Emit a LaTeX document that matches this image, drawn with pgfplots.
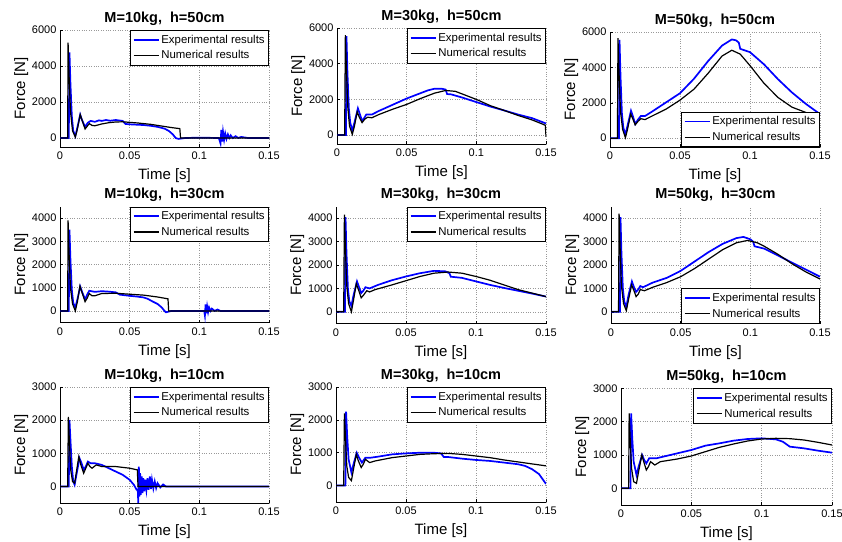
\documentclass[border=0pt]{standalone}
\usepackage{fontspec}
\setmainfont{Liberation Sans}
\usepackage{pgfplots}
\pgfplotsset{compat=1.18}
\definecolor{mblue}{RGB}{0,0,255}
\pgfplotsset{
  myax/.style={
    scale only axis, width=209pt, height=116pt,
    xmin=0, xmax=0.15, xtick={0,0.05,0.1,0.15}, xticklabels={0,0.05,0.1,0.15},
    axis x line*=bottom, axis y line*=left,
    grid=major, major grid style={dotted, gray!80, line width=0.6pt},
    axis line style={line width=0.6pt, black},
    tick style={black, line width=0.5pt}, major tick length=3pt,
    tick align=inside,
    scaled y ticks=false,
    /pgf/number format/1000 sep={}, /pgf/number format/assume math mode=true,
    tick label style={font=\fontsize{11}{13}\selectfont},
    xticklabel style={yshift=-1.5pt},
    label style={font=\fontsize{15}{17}\selectfont},
    xlabel style={yshift=-2pt},
    ylabel shift=-3pt,
    title style={font=\bfseries\fontsize{14.5}{16}\selectfont, yshift=-5pt},
    xlabel={Time [s]}, ylabel={Force [N]},
    legend style={font=\fontsize{11.4}{13}\selectfont, draw=black, line width=0.7pt, fill=white, inner xsep=2pt, inner ysep=2.5pt, row sep=2pt, cells={anchor=west}},
    legend image code/.code={\draw[#1] (0pt,0pt) -- (25pt,0pt);},
    legend cell align=left,
  },
  ne/.style={legend style={at={(1,1)}, anchor=north east}},
  se/.style={legend style={at={(1,0)}, anchor=south east}},
  r1/.style={ymin=-500, ymax=6000, ytick={0,2000,4000,6000}},
  r2/.style={ymin=-500, ymax=4500, ytick={0,1000,2000,3000,4000}},
  r3/.style={ymin=-500, ymax=3000, ytick={0,1000,2000,3000}},
  expc/.style={color=mblue, draw=mblue, line width=1.7pt},
  numc/.style={color=black, draw=black, line width=1.2pt},
}
\begin{document}
\begin{tikzpicture}
\path[use as bounding box] (0pt,0pt) rectangle (842pt,-541pt);

% P1
\begin{axis}[myax, r1, ne, at={(60pt,-147pt)}, anchor=south west, height=117pt, title={M=10kg,~~h=50cm}]
\addplot[expc] coordinates {(0,0)(0.0063,0)(0.0068,4750)(0.0075,3000)(0.0085,1200)(0.0095,400)(0.011,100)(0.0125,600)(0.0145,1300)(0.0158,1000)(0.018,620)(0.020,850)(0.022,950)(0.025,900)(0.028,980)(0.03,950)(0.033,1000)(0.036,960)(0.04,1000)(0.043,970)(0.045,950)(0.047,780)(0.05,760)(0.055,740)(0.06,720)(0.065,680)(0.07,620)(0.075,520)(0.078,400)(0.081,200)(0.083,0)(0.085,-50)(0.087,-30)(0.09,0)(0.1,20)(0.114,0)(0.1152,-300)(0.1158,450)(0.1164,-200)(0.117,350)(0.1178,-100)(0.1186,250)(0.1195,-50)(0.1205,200)(0.1215,0)(0.1225,150)(0.124,0)(0.126,100)(0.128,0)(0.13,60)(0.135,0)(0.15,0)};
\addlegendentry{Experimental results}
\addplot[numc] coordinates {(0,0)(0.0055,0)(0.0058,5300)(0.0065,3500)(0.0075,1500)(0.009,400)(0.011,50)(0.0125,500)(0.0145,1300)(0.016,950)(0.018,500)(0.0195,650)(0.021,800)(0.023,700)(0.025,680)(0.03,780)(0.035,850)(0.04,890)(0.045,900)(0.05,870)(0.055,840)(0.06,800)(0.065,760)(0.07,700)(0.075,640)(0.08,580)(0.086,520)(0.0865,0)(0.15,0)};
\addlegendentry{Numerical results}
\end{axis}

% P2
\begin{axis}[myax, r1, ne, at={(337pt,-144pt)}, anchor=south west, title={M=30kg,~~h=50cm}]
\addplot[expc] coordinates {(0,0)(0.0064,0)(0.0068,5550)(0.0075,3500)(0.0085,1500)(0.0095,700)(0.011,250)(0.0125,700)(0.015,1500)(0.0165,1150)(0.018,800)(0.0195,950)(0.021,1150)(0.025,1150)(0.03,1350)(0.04,1700)(0.05,2050)(0.06,2350)(0.065,2500)(0.07,2600)(0.075,2600)(0.078,2550)(0.079,2300)(0.082,2280)(0.09,2100)(0.1,1850)(0.11,1600)(0.12,1380)(0.13,1150)(0.14,950)(0.15,650)};
\addlegendentry{Experimental results}
\addplot[numc] coordinates {(0,0)(0.0055,0)(0.006,5600)(0.0067,3800)(0.0078,1500)(0.009,500)(0.011,40)(0.0125,500)(0.0145,1300)(0.016,1000)(0.018,700)(0.020,900)(0.022,1000)(0.025,970)(0.03,1150)(0.04,1450)(0.05,1720)(0.06,2050)(0.07,2350)(0.078,2500)(0.085,2450)(0.09,2300)(0.1,2000)(0.11,1650)(0.12,1380)(0.13,1100)(0.14,850)(0.148,600)(0.1495,550)(0.15,-100)};
\addlegendentry{Numerical results}
\end{axis}

% P3
\begin{axis}[myax, r1, se, at={(610pt,-147pt)}, anchor=south west, width=210pt, height=115pt, title={M=50kg,~~h=50cm}]
\addplot[expc] coordinates {(0,0)(0.0064,0)(0.0068,5550)(0.0075,3500)(0.0085,1400)(0.0095,600)(0.011,200)(0.0125,700)(0.015,1550)(0.0165,1200)(0.018,800)(0.020,1050)(0.022,1250)(0.025,1250)(0.03,1500)(0.04,2020)(0.05,2540)(0.06,3360)(0.07,4350)(0.08,5230)(0.087,5580)(0.09,5530)(0.092,5400)(0.093,5050)(0.1,4860)(0.11,4170)(0.12,3330)(0.13,2580)(0.14,1930)(0.15,1360)};
\addlegendentry{Experimental results}
\addplot[numc] coordinates {(0,0)(0.0053,0)(0.0057,5650)(0.0064,3800)(0.0075,1500)(0.009,500)(0.011,30)(0.0125,500)(0.0148,1360)(0.0165,1050)(0.018,750)(0.020,950)(0.022,1100)(0.025,1050)(0.03,1250)(0.04,1640)(0.05,2150)(0.06,2770)(0.07,3660)(0.08,4640)(0.087,4970)(0.093,4750)(0.1,4100)(0.11,3100)(0.12,2300)(0.13,1750)(0.14,1450)(0.15,1250)};
\addlegendentry{Numerical results}
\end{axis}

% P4
\begin{axis}[myax, r2, ne, at={(60pt,-322.5pt)}, anchor=south west, title={M=10kg,~~h=30cm}]
\addplot[expc] coordinates {(0,0)(0.0063,0)(0.0068,3500)(0.0075,2200)(0.0085,900)(0.0095,350)(0.011,150)(0.0125,500)(0.0145,1050)(0.016,800)(0.018,500)(0.0195,700)(0.021,870)(0.025,820)(0.03,850)(0.035,830)(0.04,800)(0.043,700)(0.05,650)(0.055,620)(0.06,580)(0.063,520)(0.066,420)(0.07,300)(0.073,150)(0.075,0)(0.076,-60)(0.078,-30)(0.08,0)(0.1035,0)(0.104,-200)(0.1045,280)(0.105,-100)(0.1056,200)(0.1063,-50)(0.107,150)(0.108,0)(0.109,100)(0.111,0)(0.113,60)(0.115,0)(0.15,0)};
\addlegendentry{Experimental results}
\addplot[numc] coordinates {(0,0)(0.0055,0)(0.0058,3900)(0.0065,2500)(0.0075,1000)(0.009,300)(0.011,0)(0.0125,400)(0.0143,1070)(0.016,750)(0.018,400)(0.0195,550)(0.021,750)(0.023,650)(0.025,650)(0.03,750)(0.04,760)(0.05,720)(0.06,680)(0.07,600)(0.0775,520)(0.078,0)(0.15,0)};
\addlegendentry{Numerical results}
\end{axis}

% P5
\begin{axis}[myax, r2, ne, at={(336pt,-323.5pt)}, anchor=south west, width=210pt, height=117pt, title={M=30kg,~~h=30cm}]
\addplot[expc] coordinates {(0,0)(0.0064,0)(0.0068,4050)(0.0075,2500)(0.0085,1000)(0.0095,450)(0.011,250)(0.0125,700)(0.015,1300)(0.0165,1050)(0.018,800)(0.0195,900)(0.021,1050)(0.024,1000)(0.03,1150)(0.04,1350)(0.05,1510)(0.06,1650)(0.07,1750)(0.078,1730)(0.081,1650)(0.082,1500)(0.09,1450)(0.1,1300)(0.11,1150)(0.12,1020)(0.13,900)(0.14,780)(0.15,650)};
\addlegendentry{Experimental results}
\addplot[numc] coordinates {(0,0)(0.0055,0)(0.006,4150)(0.0067,2700)(0.0077,1100)(0.009,350)(0.011,0)(0.0125,500)(0.0145,1200)(0.016,950)(0.018,600)(0.0195,700)(0.022,900)(0.024,850)(0.028,950)(0.04,1150)(0.05,1330)(0.06,1510)(0.07,1650)(0.08,1700)(0.09,1650)(0.1,1510)(0.11,1350)(0.12,1150)(0.13,950)(0.14,800)(0.15,650)};
\addlegendentry{Numerical results}
\end{axis}

% P6
\begin{axis}[myax, r2, se, at={(611pt,-323.5pt)}, anchor=south west, height=117pt, title={M=50kg,~~h=30cm}]
\addplot[expc] coordinates {(0,0)(0.0064,0)(0.0068,4050)(0.0075,2500)(0.0085,1000)(0.0095,450)(0.011,200)(0.0125,700)(0.015,1300)(0.0165,1050)(0.018,850)(0.0195,950)(0.021,1100)(0.023,1050)(0.03,1250)(0.035,1350)(0.04,1450)(0.05,1750)(0.06,2150)(0.07,2550)(0.08,2900)(0.09,3150)(0.095,3200)(0.1,3100)(0.102,3000)(0.103,2800)(0.11,2700)(0.12,2400)(0.13,2100)(0.14,1800)(0.15,1500)};
\addlegendentry{Experimental results}
\addplot[numc] coordinates {(0,0)(0.0054,0)(0.0058,4200)(0.0065,2800)(0.0075,1100)(0.009,350)(0.011,50)(0.0125,500)(0.0148,1150)(0.0165,900)(0.018,650)(0.0195,750)(0.021,950)(0.024,900)(0.03,1050)(0.04,1250)(0.05,1500)(0.06,1850)(0.07,2250)(0.08,2650)(0.09,2950)(0.098,3050)(0.105,2950)(0.11,2800)(0.12,2450)(0.13,2050)(0.14,1700)(0.15,1400)};
\addlegendentry{Numerical results}
\end{axis}

% P7
\begin{axis}[myax, r3, ne, at={(60pt,-503pt)}, anchor=south west, title={M=10kg,~~h=10cm}]
\addplot[expc] coordinates {(0,0)(0.0063,0)(0.0068,2000)(0.0075,1400)(0.0085,600)(0.0095,150)(0.0105,50)(0.012,400)(0.014,850)(0.0155,700)(0.017,500)(0.0185,600)(0.02,750)(0.022,700)(0.025,700)(0.03,650)(0.035,550)(0.04,450)(0.045,350)(0.05,200)(0.053,50)(0.055,-100)(0.0558,-100)(0.0562,-500)(0.0566,600)(0.057,-300)(0.0575,400)(0.058,-250)(0.0586,300)(0.0592,-200)(0.0598,250)(0.0605,-150)(0.0612,200)(0.062,-100)(0.0628,250)(0.0636,-100)(0.0645,300)(0.0653,-80)(0.066,200)(0.067,-60)(0.068,150)(0.069,-50)(0.07,100)(0.072,-30)(0.074,60)(0.076,0)(0.15,0)};
\addlegendentry{Experimental results}
\addplot[numc] coordinates {(0,0)(0.0055,0)(0.006,2100)(0.0067,1400)(0.0077,500)(0.009,150)(0.0105,100)(0.012,500)(0.0135,900)(0.015,650)(0.017,400)(0.0185,550)(0.02,700)(0.0215,600)(0.023,550)(0.026,650)(0.03,600)(0.04,600)(0.05,550)(0.0555,500)(0.056,0)(0.15,0)};
\addlegendentry{Numerical results}
\end{axis}

% P8
\begin{axis}[myax, r3, ne, at={(336pt,-502pt)}, anchor=south west, width=210pt, height=115pt, title={M=30kg,~~h=10cm}]
\addplot[expc] coordinates {(0,0)(0.0067,0)(0.0072,2250)(0.008,1500)(0.009,800)(0.011,400)(0.0125,650)(0.0148,1000)(0.0165,850)(0.0185,700)(0.021,850)(0.025,850)(0.03,880)(0.04,950)(0.05,980)(0.06,1000)(0.07,1000)(0.075,980)(0.077,870)(0.08,870)(0.09,820)(0.1,780)(0.11,750)(0.12,700)(0.13,650)(0.135,600)(0.14,500)(0.145,350)(0.15,50)};
\addlegendentry{Experimental results}
\addplot[numc] coordinates {(0,0)(0.0055,0)(0.006,2200)(0.0067,1500)(0.0077,600)(0.009,250)(0.011,150)(0.0125,500)(0.0145,950)(0.016,750)(0.018,550)(0.0195,650)(0.021,800)(0.024,700)(0.028,750)(0.04,850)(0.05,900)(0.06,950)(0.07,970)(0.08,980)(0.09,950)(0.1,900)(0.11,850)(0.12,780)(0.13,720)(0.14,660)(0.15,600)};
\addlegendentry{Numerical results}
\end{axis}

% P9
\begin{axis}[myax, r3, ne, at={(621pt,-505pt)}, anchor=south west, width=211pt, height=116.7pt, title={M=50kg,~~h=10cm}]
\addplot[expc] coordinates {(0,0)(0.0067,0)(0.0072,2250)(0.008,1500)(0.009,800)(0.011,400)(0.0125,650)(0.015,1000)(0.0165,850)(0.018,750)(0.02,900)(0.025,900)(0.03,950)(0.04,1050)(0.05,1150)(0.06,1280)(0.07,1350)(0.08,1430)(0.09,1480)(0.1,1500)(0.11,1470)(0.115,1400)(0.12,1250)(0.13,1200)(0.14,1130)(0.15,1070)};
\addlegendentry{Experimental results}
\addplot[numc] coordinates {(0,0)(0.0054,0)(0.0058,2250)(0.0065,1500)(0.0075,600)(0.009,200)(0.011,150)(0.0125,500)(0.0148,1000)(0.0165,750)(0.018,550)(0.0195,650)(0.021,800)(0.024,700)(0.028,800)(0.04,880)(0.05,970)(0.06,1100)(0.07,1230)(0.08,1330)(0.09,1420)(0.1,1480)(0.11,1500)(0.12,1490)(0.13,1450)(0.14,1380)(0.15,1300)};
\addlegendentry{Numerical results}
\end{axis}
\end{tikzpicture}
\end{document}
